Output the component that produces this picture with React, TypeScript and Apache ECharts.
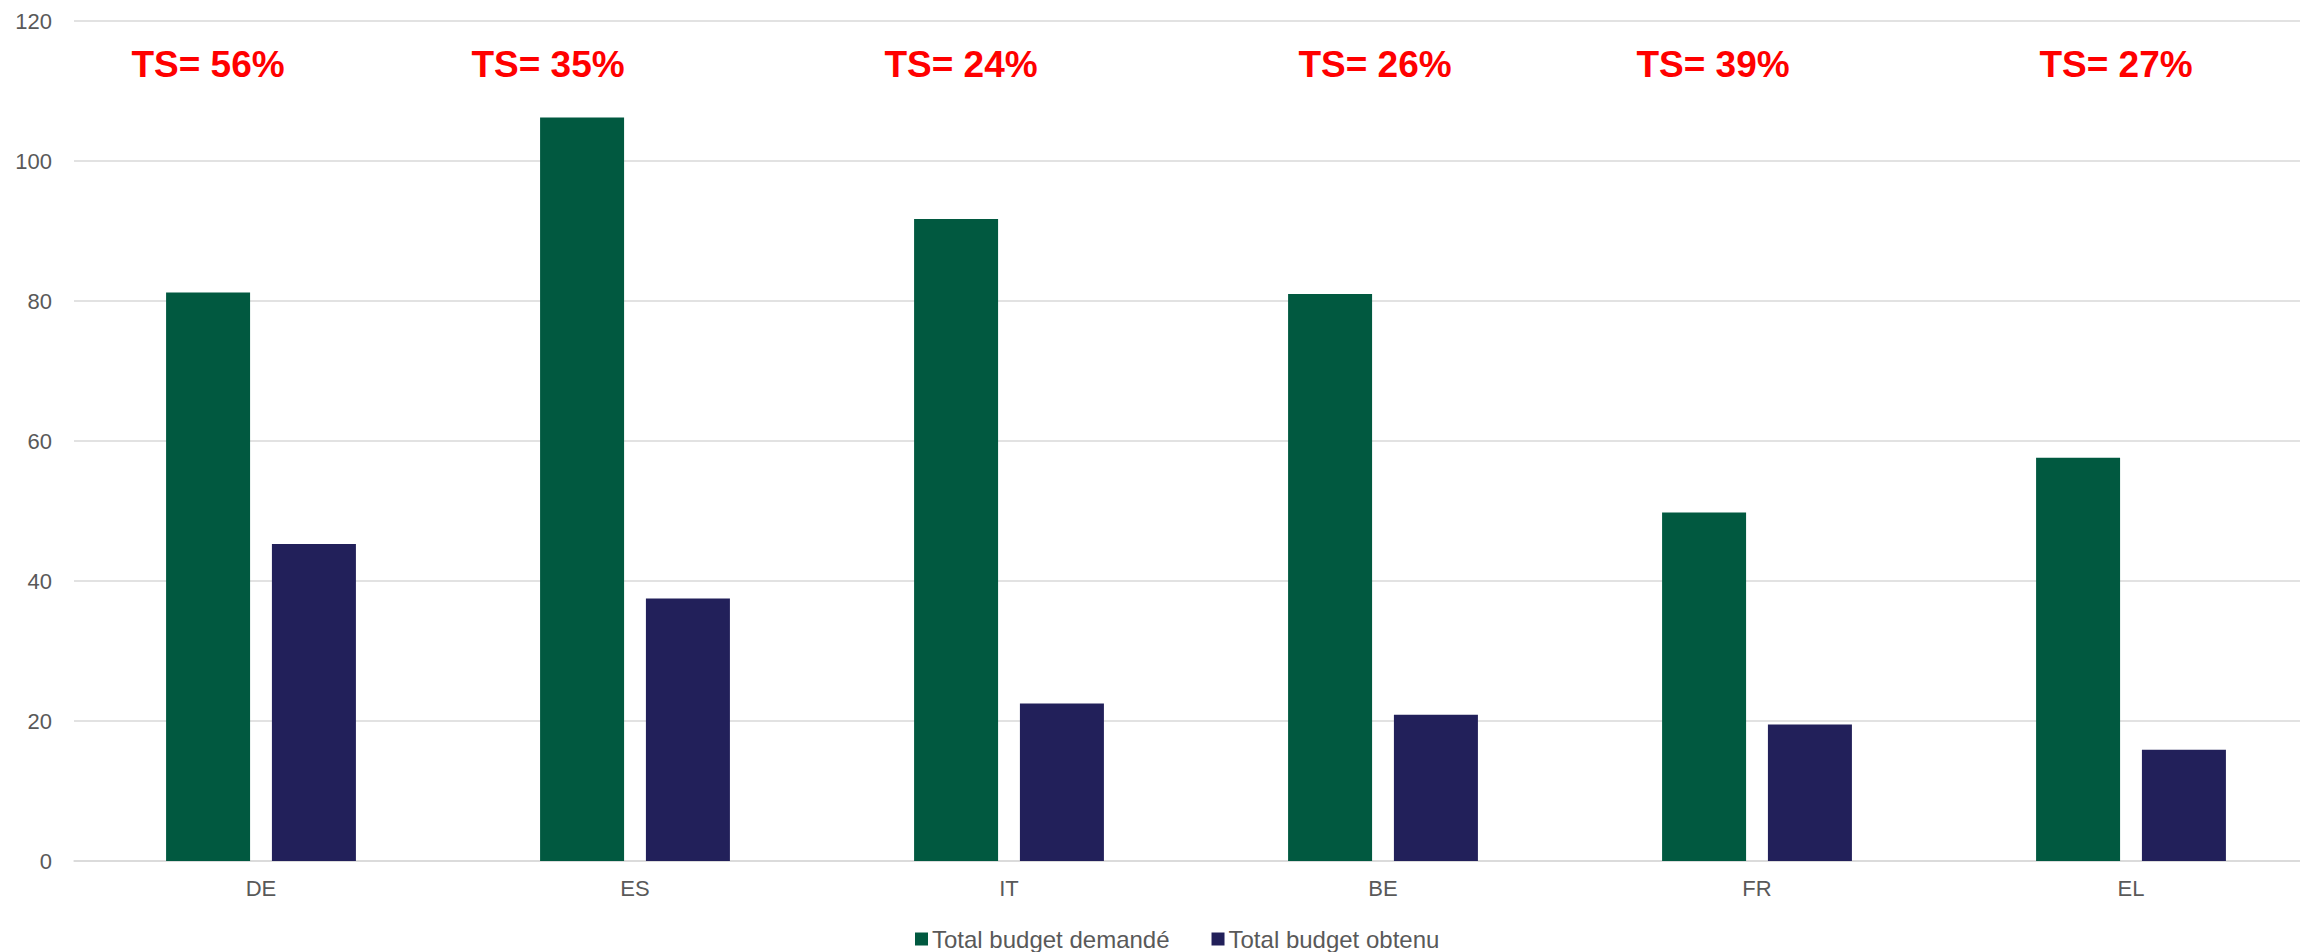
import React, { useEffect, useRef } from "react";
import * as echarts from "echarts";

const categories = ["DE", "ES", "IT", "BE", "FR", "EL"];
const demande = [81.2, 106.2, 91.7, 81.0, 49.8, 57.6];
const obtenu = [45.3, 37.5, 22.5, 20.9, 19.5, 15.9];
const tsLabels = ["TS= 56%", "TS= 35%", "TS= 24%", "TS= 26%", "TS= 39%", "TS= 27%"];
const yTicks = { min: 0, max: 120, interval: 20 };
const seriesNames = ["Total budget demandé", "Total budget obtenu"];

// annotation centre positions (pixels)
const tsX = [208, 548, 961, 1375, 1713, 2116];
const tsY = 64;

const FONT = "'Liberation Sans', Arial, sans-serif";

export default function App() {
  const ref = useRef<HTMLDivElement>(null);
  useEffect(() => {
    if (!ref.current) return;
    const chart = echarts.init(ref.current, undefined, { renderer: "svg" });
    chart.setOption({
      animation: false,
      backgroundColor: "#ffffff",
      textStyle: { fontFamily: FONT },
      grid: { left: 74, right: 0, top: 21, bottom: 91, containLabel: false },
      legend: {
        left: 910,
        top: 921,
        itemWidth: 13,
        itemHeight: 13,
        itemGap: 42,
        icon: "rect",
        textStyle: { fontSize: 24, lineHeight: 26, color: "#595959", fontFamily: FONT, padding: [0, 0, 0, -1] },
        data: seriesNames,
      },
      xAxis: {
        type: "category",
        data: categories,
        axisLine: { show: true, lineStyle: { color: "#d9d9d9", width: 1.5 } },
        axisTick: { show: false },
        axisLabel: { color: "#595959", fontSize: 22, margin: 16, fontFamily: FONT },
      },
      yAxis: {
        type: "value",
        min: yTicks.min,
        max: yTicks.max,
        interval: yTicks.interval,
        axisLine: { show: false },
        axisTick: { show: false },
        axisLabel: { color: "#595959", fontSize: 22, margin: 22, fontFamily: FONT },
        splitLine: { lineStyle: { color: "#d9d9d9", width: 1.5 } },
      },
      series: [
        {
          name: seriesNames[0],
          type: "bar",
          data: demande,
          barWidth: 84,
          barGap: "26%",
          itemStyle: { color: "#015940" },
        },
        {
          name: seriesNames[1],
          type: "bar",
          data: obtenu,
          barWidth: 84,
          barGap: "26%",
          itemStyle: { color: "#22205A" },
        },
      ],
      graphic: tsLabels.map((t, i) => ({
        type: "text",
        x: tsX[i],
        y: tsY,
        style: {
          text: t,
          fill: "#FF0000",
          font: `bold 37px ${FONT}`,
          textAlign: "center",
          textVerticalAlign: "middle",
        },
      })),
    });
    return () => chart.dispose();
  }, []);
  return (
    <div
      style={{
        position: "fixed",
        left: 0,
        top: 0,
        width: 2300,
        height: 952,
        overflow: "hidden",
        background: "#fff",
      }}
    >
      <div ref={ref} style={{ width: 2318, height: 952 }} />
    </div>
  );
}
